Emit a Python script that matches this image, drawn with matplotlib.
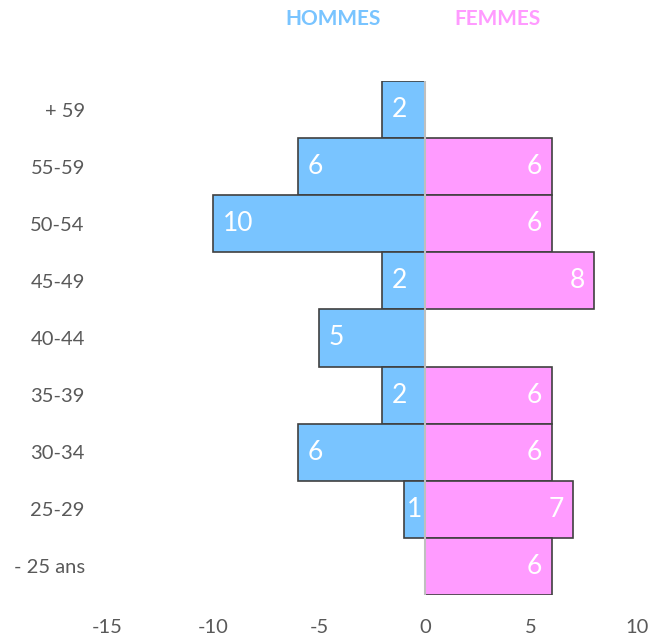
import numpy as np
import matplotlib.pyplot as plt

plt.rcParams['font.family'] = ['Lato', 'DejaVu Sans']

CATEGORIES = ['+ 59', '55-59', '50-54', '45-49', '40-44', '35-39', '30-34', '25-29', '- 25 ans']
HOMMES = [2, 6, 10, 2, 5, 2, 6, 1, 0]
FEMMES = [0, 6, 6, 8, 0, 6, 6, 7, 6]
XTICKS = [-15, -10, -5, 0, 5, 10]

BLUE = '#79C4FF'
PINK = '#FF9BFF'
EDGE = '#404040'
GREY_TXT = '#595959'

fig = plt.figure(figsize=(6.51, 6.41), dpi=100)
ax = fig.add_axes([0.1644, 0.0718, 0.978 - 0.1644, 0.8736 - 0.0718])

y = np.arange(len(CATEGORIES))
h = -np.array(HOMMES)
f = np.array(FEMMES)

ax.barh(y, h, height=1.0, color=BLUE, edgecolor=EDGE, linewidth=1.2, zorder=2)
ax.barh(y, f, height=1.0, color=PINK, edgecolor=EDGE, linewidth=1.2, zorder=2)
ax.axvline(0, color='#BFBFBF', lw=1.5, zorder=3)

for yi, v in zip(y, HOMMES):
    if not v:
        continue
    if v <= 1:
        # too narrow: keep the label centred inside the bar
        ax.text(-v / 2, yi, str(v), ha='center', va='center', color='white',
                fontsize=19, zorder=4)
    else:
        ax.annotate(str(v), (-v, yi), xytext=(7, 0), textcoords='offset points',
                    ha='left', va='center', color='white', fontsize=19, zorder=4)
for yi, v in zip(y, FEMMES):
    if v:
        ax.annotate(str(v), (v, yi), xytext=(-7, 0), textcoords='offset points',
                    ha='right', va='center', color='white', fontsize=19, zorder=4)

ax.set_xlim(-15, 10)
ax.set_ylim(len(CATEGORIES) - 0.5, -0.5)
ax.set_xticks(XTICKS)
ax.set_xticklabels([str(t) for t in XTICKS])
ax.set_yticks(y)
ax.set_yticklabels(CATEGORIES)
ax.tick_params(length=0, labelsize=14.5, colors=GREY_TXT)
ax.tick_params(axis='y', pad=16)
ax.tick_params(axis='x', pad=17)
for s in ax.spines.values():
    s.set_visible(False)

fig.text(333 / 651, 1 - 19 / 641, 'HOMMES', color=BLUE, fontsize=15,
         fontweight='bold', ha='center', va='center')
fig.text(498 / 651, 1 - 19 / 641, 'FEMMES', color=PINK, fontsize=15,
         fontweight='bold', ha='center', va='center')

fig.savefig('out.png', dpi=100)
